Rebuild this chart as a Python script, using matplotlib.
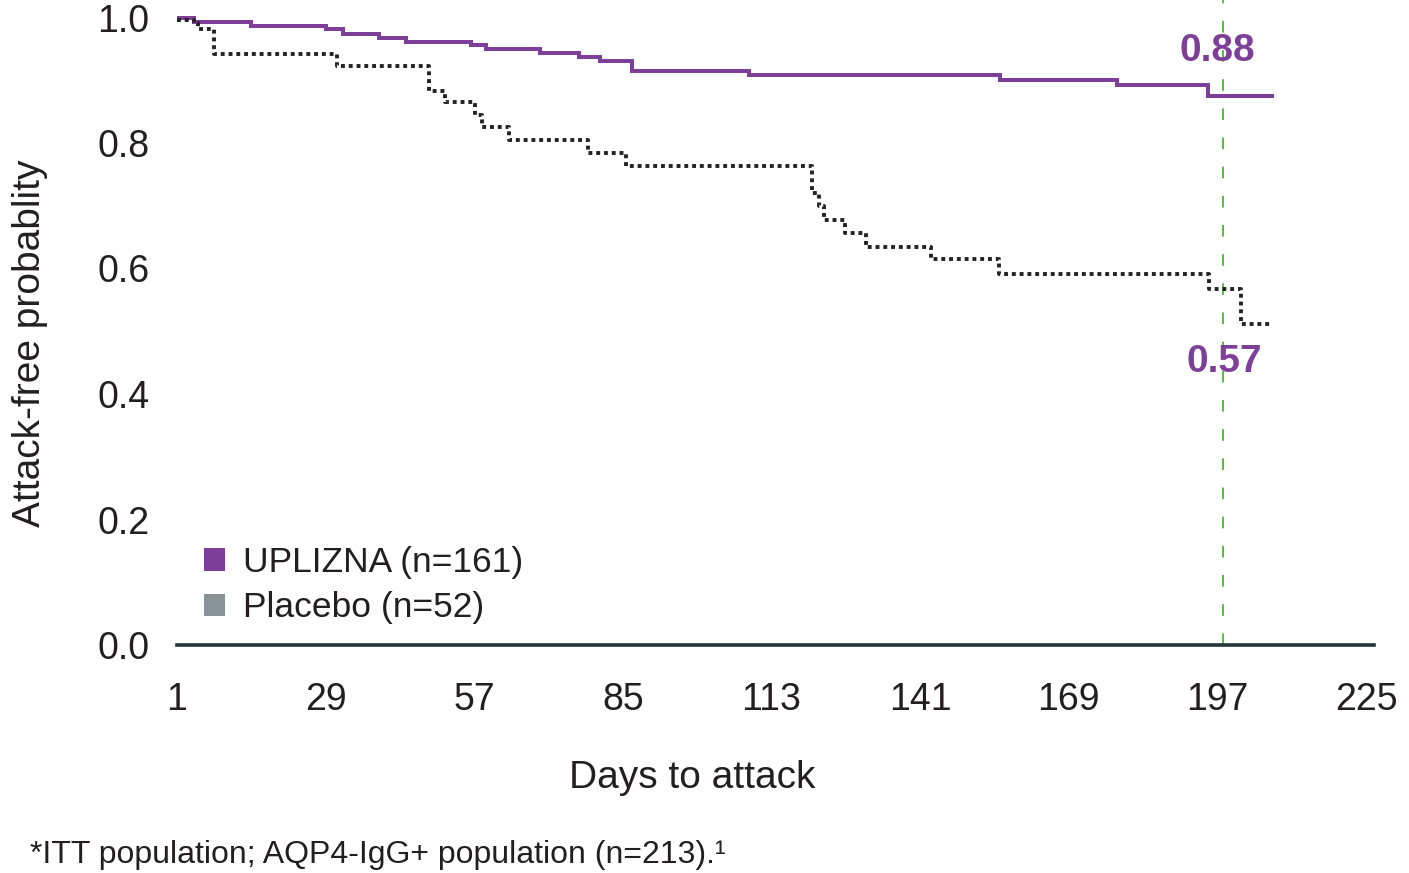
import matplotlib
matplotlib.use('Agg')
import matplotlib.pyplot as plt
from matplotlib.patches import Patch

plt.rcParams['font.family'] = ['Liberation Sans', 'DejaVu Sans']

# Kaplan-Meier steps (day, attack-free probability)
uplizna_days = [1, 4.2, 14.9, 29.0, 32.2, 39.1, 44.1, 56.4, 59.2, 69.3, 76.7,
                80.6, 86.7, 108.7, 156.1, 178.1, 195.3, 207.2]
uplizna_prob = [1.0, 0.993, 0.987, 0.981, 0.974, 0.968, 0.961, 0.956, 0.950,
                0.943, 0.937, 0.930, 0.915, 0.908, 0.900, 0.892, 0.875, 0.875]

placebo_days = [1, 4.2, 5.0, 8.0, 31.2, 48.4, 51.4, 57.2, 58.4, 63.5, 78.4,
                85.5, 120.7, 121.9, 122.9, 126.8, 130.8, 143.0, 155.9, 195.4,
                201.5, 207.0]
placebo_prob = [0.996, 0.991, 0.981, 0.942, 0.923, 0.883, 0.865, 0.845, 0.825,
                0.804, 0.784, 0.763, 0.721, 0.700, 0.677, 0.657, 0.635, 0.615,
                0.591, 0.567, 0.512, 0.512]

x_ticks = [1, 29, 57, 85, 113, 141, 169, 197, 225]
y_ticks = [0.0, 0.2, 0.4, 0.6, 0.8, 1.0]
marker_day = 198
labels = ['UPLIZNA (n=161)', 'Placebo (n=52)']
annot = [(0.88, '0.88'), (0.57, '0.57')]

PURPLE = '#7d3f98'
GREY = '#879294'
DARK = '#231f20'

W, H = 1409, 873
fig = plt.figure(figsize=(W / 100, H / 100), dpi=100)
ax = fig.add_axes([177 / W, 1 - 645 / H, (1374 - 177) / W, 645 / H])

ax.step(uplizna_days, uplizna_prob, where='post', color=PURPLE, lw=2.9,
        solid_joinstyle='miter')
ax.step(placebo_days, placebo_prob, where='post', color='#222222', lw=2.8,
        linestyle=(0, (1.0, 1.0)), dash_capstyle='butt')

ax.axvline(marker_day, color='#5cb848', lw=1.4, linestyle=(0, (6, 9)), zorder=0)

ax.set_xlim(1, 1 + (1374 - 177) / 5.308)
ax.set_ylim(0, 645 / 627.5)

for s in ['top', 'right', 'left']:
    ax.spines[s].set_visible(False)
ax.spines['bottom'].set_color('#27343b')
ax.spines['bottom'].set_linewidth(2.6)

ax.set_xticks(x_ticks)
ax.set_xticklabels([str(t) for t in x_ticks])
ax.set_yticks(y_ticks)
ax.set_yticklabels([f'{t:.1f}' for t in y_ticks])
ax.tick_params(axis='x', length=0, pad=27, labelsize=27, labelcolor=DARK)
ax.tick_params(axis='y', length=0, pad=20, labelsize=27, labelcolor=DARK)

ax.annotate(annot[0][1], xy=(197, annot[0][0]), xytext=(0, 30),
            textcoords='offset points', ha='center', va='center',
            fontsize=28, fontweight='bold', color=PURPLE)
ax.annotate(annot[1][1], xy=(197, annot[1][0]), xytext=(5, -54),
            textcoords='offset points', ha='center', va='center',
            fontsize=28, fontweight='bold', color=PURPLE)

handles = [Patch(facecolor=PURPLE, edgecolor='none'),
           Patch(facecolor=GREY, edgecolor='none')]
ax.legend(handles, labels, loc='upper left', frameon=False, fontsize=25.5,
          bbox_to_anchor=(204 / W, 1 - 546 / H), bbox_transform=fig.transFigure,
          borderpad=0, borderaxespad=0, handlelength=0.6, handleheight=0.6,
          handletextpad=0.5, labelspacing=0.35, labelcolor=DARK)

fig.text(692 / W, 1 - 778 / H, 'Days to attack', ha='center', va='center',
         fontsize=28, color=DARK)
fig.text(30 / W, 1 - 343 / H, 'Attack-free probablity', ha='center',
         va='center', rotation=90, fontsize=28, color=DARK)
fig.text(30 / W, 1 - 855 / H, '*ITT population; AQP4-IgG+ population (n=213).\u00b9',
         ha='left', va='center', fontsize=23, color=DARK)

fig.savefig('out.png', dpi=100, facecolor='white')
